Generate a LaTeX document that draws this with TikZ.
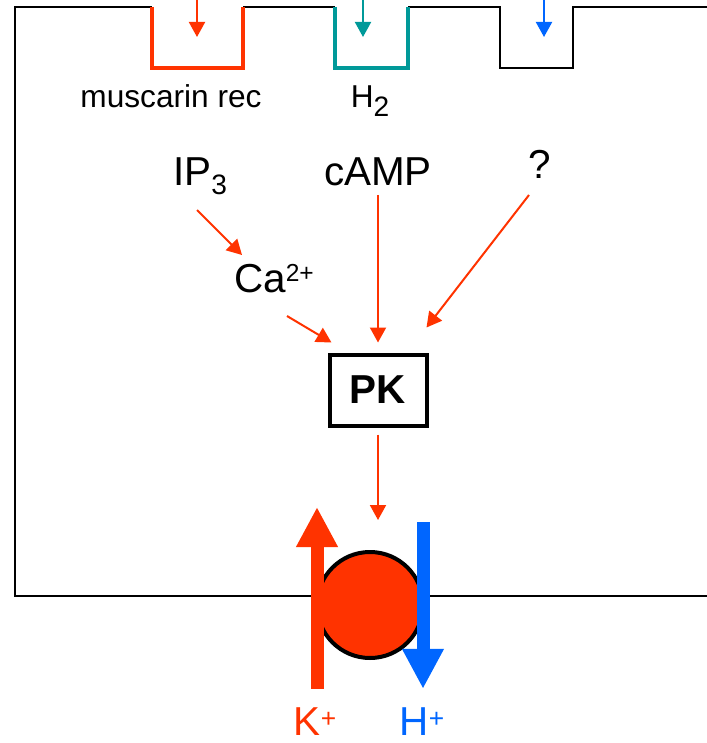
\documentclass[tikz,border=0pt]{standalone}
\usepackage{fontspec}
\setmainfont{Liberation Sans}
\usepackage{xcolor}
\usetikzlibrary{arrows.meta,calc}

\definecolor{pumpred}{HTML}{FF3300}
\definecolor{htwo}{HTML}{009999}
\definecolor{hblue}{HTML}{0066FF}

\newcommand{\lowidx}[1]{\raisebox{-5pt}{\fontsize{16}{16}\selectfont #1}}
\newcommand{\highidx}[1]{\raisebox{5.7pt}{\fontsize{14}{14}\selectfont #1}}
\newcommand{\ionplus}{\raisebox{4.5pt}{\fontsize{15}{15}\selectfont +}}

\begin{document}
\begin{tikzpicture}[x=0.2mm,y=-0.2mm,
		lbl/.style={inner sep=0pt,anchor=base,font=\fontsize{23}{27}\selectfont},
		small/.style={inner sep=0pt,anchor=base,font=\fontsize{18}{21}\selectfont},
		sig/.style={line width=0.4mm,-{Triangle[length=3mm,width=3.2mm]}},
		flux/.style={line width=2.6mm,-{Triangle[length=8mm,width=7.8mm]}}]
		\useasboundingbox (0,0) rectangle (707,743);
		
		% cell outline
		\draw[line width=0.35mm] (707,596) -- (15,596) -- (15,7) -- (152,7);
		\draw[line width=0.35mm] (243,7) -- (335,7);
		\draw[line width=0.35mm] (408,7) -- (500,7) -- (500,68) -- (573,68) -- (573,7) -- (707,7);
		\draw[pumpred,line width=0.8mm] (152,7) -- (152,68) -- (243,68) -- (243,7);
		\draw[htwo,line width=0.8mm] (335,7) -- (335,68) -- (408,68) -- (408,7);
		
		% ligands
		\coordinate (achout) at (197,0);
		\coordinate (achin) at (197,37);
		\coordinate (histout) at (363,0);
		\coordinate (histin) at (363,37);
		\coordinate (thirdout) at (544,0);
		\coordinate (thirdin) at (544,37);
		\draw[sig,pumpred] (achout) -- (achin);
		\draw[sig,htwo] (histout) -- (histin);
		\draw[sig,hblue] (thirdout) -- (thirdin);
		
		\node[small] (musc) at (171,108) {muscarin rec};
		\node[small] (hrec) at (370,108) {H\lowidx{2}};
		
		\node[lbl] (ip3) at (200,186) {IP\lowidx{3}};
		\node[lbl] (camp) at (378,186) {cAMP};
		\node[lbl] (unk) at (540,179) {?};
		\node[lbl] (ca) at (274,292) {Ca\highidx{2+}};
		\node[draw,line width=0.8mm,minimum width=19.4mm,minimum height=14.2mm,
			font=\fontsize{23}{27}\selectfont\bfseries] (pk) at (378,390) {PK};
		
		\draw[sig,pumpred] ($(ip3.base)+(-3,24)$) -- ($(ca.base)+(-32,-37)$);
		\draw[sig,pumpred] ($(ca.base)+(13,24)$) -- ($(pk.north west)+(4,-10)$);
		\draw[sig,pumpred] ($(camp.base)+(0,9)$) -- ($(pk.north)+(0,-10)$);
		\draw[sig,pumpred] ($(unk.base)+(-11,16)$) -- ($(pk.north east)+(-2,-25)$);
		
		% pump
		\node[circle,draw,line width=0.8mm,fill=pumpred,minimum size=21.2mm,inner sep=0pt] (pump) at (370,605) {};
		\draw[sig,pumpred] ($(pk.south)+(0,7)$) -- ($(pk.south |- pump.north)+(0,-30)$);
		
		\node[lbl,text=pumpred] (kion) at (315,735) {K\ionplus};
		\node[lbl,text=hblue] (hion) at (422,735) {H\ionplus};
		\coordinate (kout) at (317,507);
		\coordinate (hin) at (423,522);
		\draw[flux,pumpred] ($(kion.north)+(2,-18)$) -- (kout);
		\draw[flux,hblue] (hin) -- ($(hion.north)+(1,-18)$);
	\end{tikzpicture}
\end{document}
